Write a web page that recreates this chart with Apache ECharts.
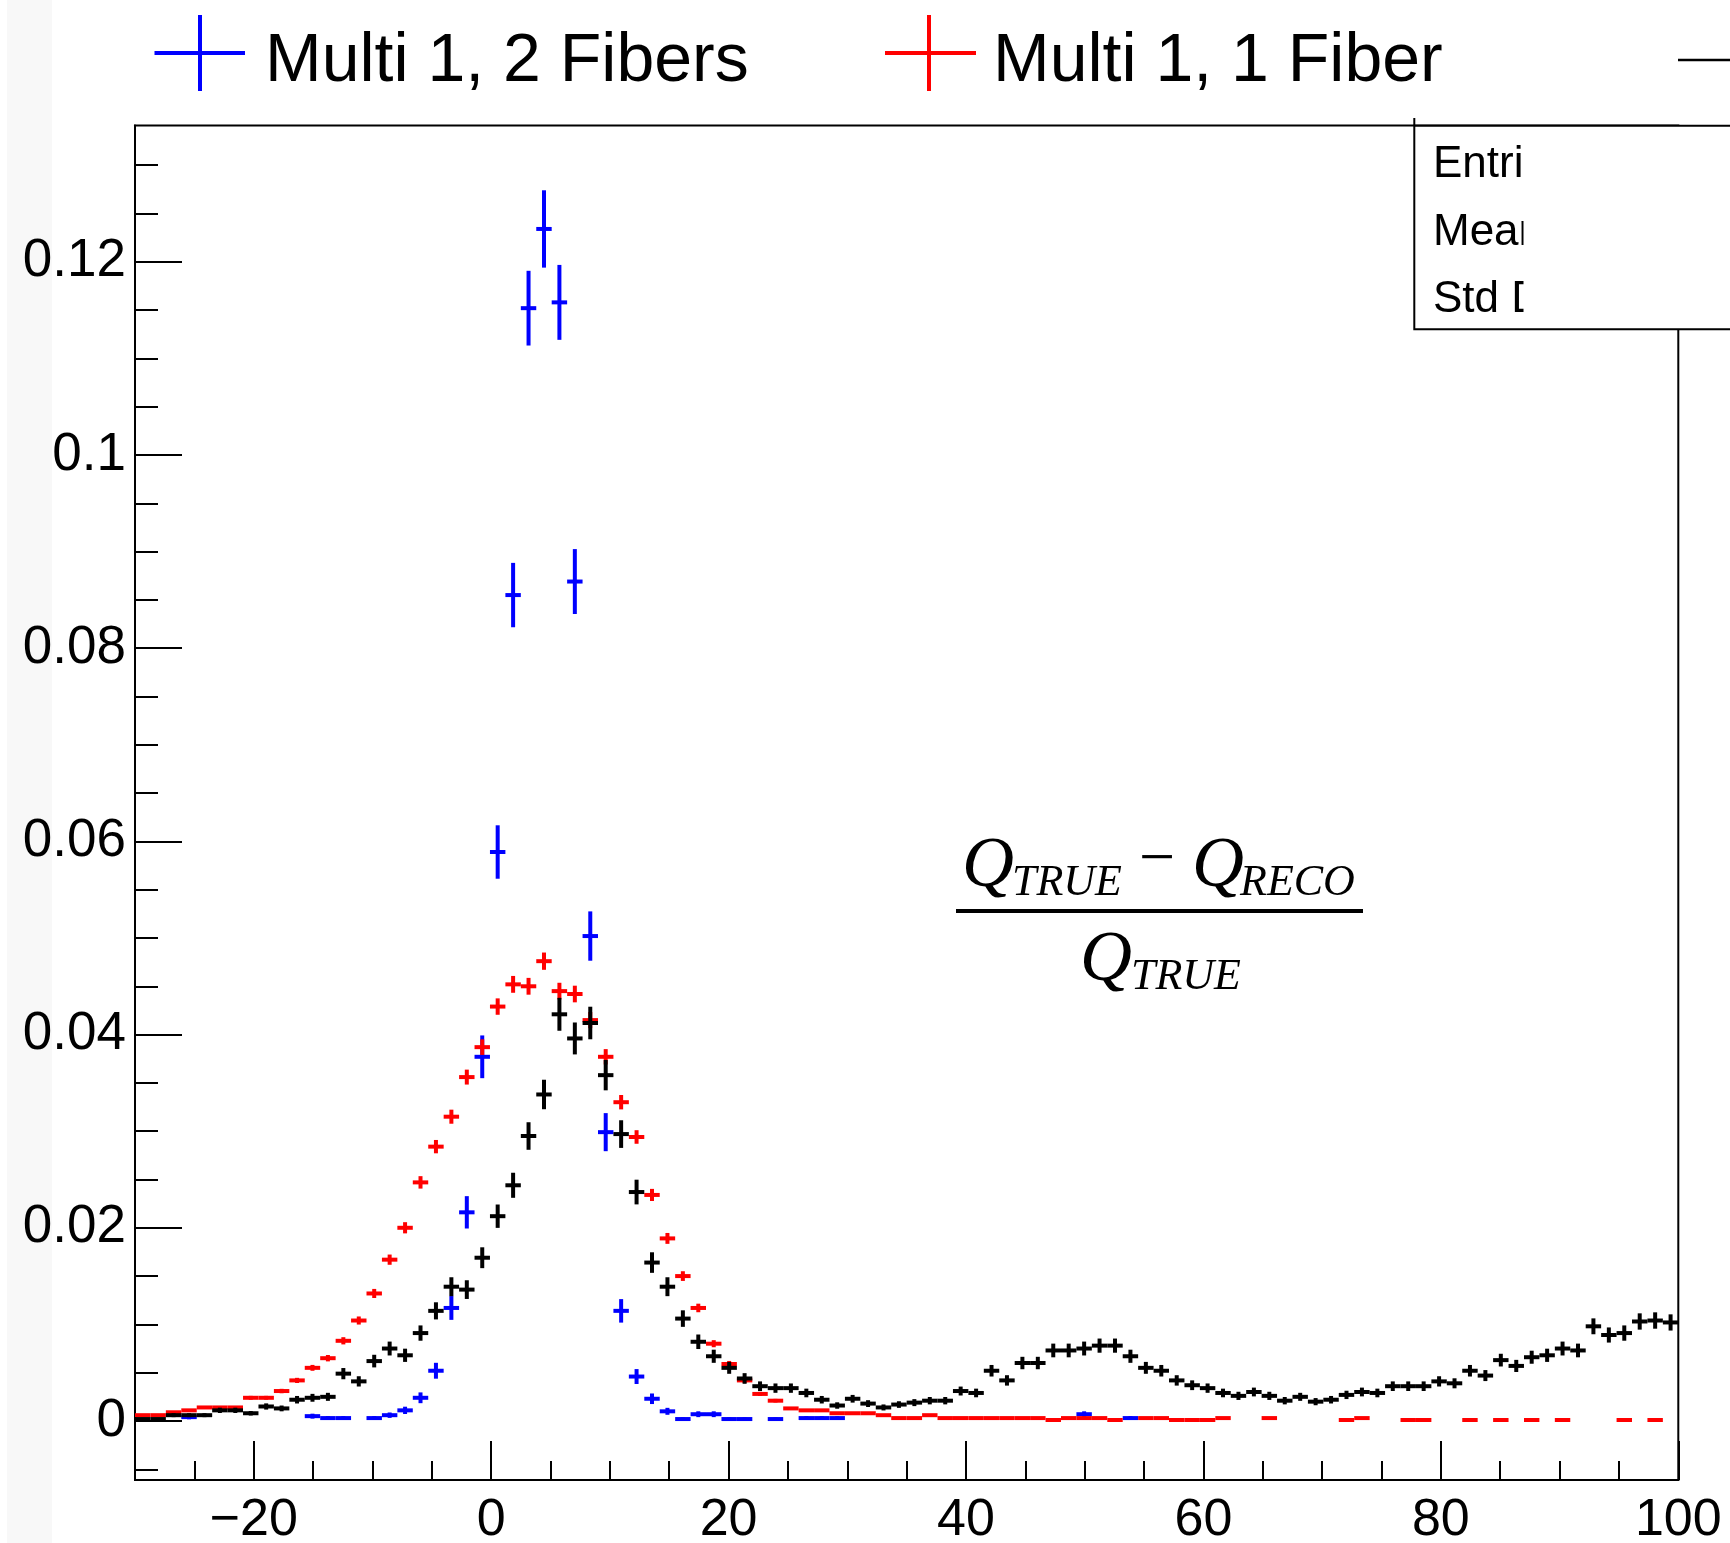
<!DOCTYPE html>
<html lang="en">
	<head>
		<meta charset="UTF-8" />
		<title>Charge resolution</title>
		<style>
			html, body { margin: 0; padding: 0; background: #fff; }
		</style>
	</head>
	<body>
		<div id="main" style="width: 1730px; height: 1543px"></div>
		<script src="https://cdn.jsdelivr.net/npm/echarts@6/dist/echarts.min.js"></script>
		<script>
			// histogram binning: 100 bins from -30 to 100
			var binLow = -30;
			var binWidth = 1.3;
			var nBins = 100;

			var xMajorTicks = [-20, 0, 20, 40, 60, 80, 100];
			var yMajorTicks = [0, 0.02, 0.04, 0.06, 0.08, 0.1, 0.12];

			// bin contents (null = empty bin, not drawn)
			var multi1TwoFibers = [
				null, null, null, 0.0004, null, null, null, null, null, null,
				null, 0.0005, 0.0003, 0.0003, null, 0.0003, 0.0006, 0.0011, 0.0024, 0.0052,
				0.0117, 0.0216, 0.0377, 0.0589, 0.0855, 0.1152, 0.1234, 0.1158, 0.0869, 0.0502,
				0.0299, 0.0114, 0.0046, 0.0023, 0.001, 0.0002, 0.0007, 0.0007, 0.0002, 0.0002,
				null, 0.0002, null, 0.0003, 0.0003, 0.0003, null, null, null, null,
				null, null, null, null, null, null, null, null, null, null,
				null, 0.0007, null, null, 0.0003, null, null, null, null, null,
				null, null, null, null, null, null, null, null, null, null,
				null, null, null, null, null, null, null, null, null, null,
				null, null, null, null, null, null, null, null, null, null
			];
			var multi1OneFiber = [
				0.0006, 0.0006, 0.0009, 0.0011, 0.0014, 0.0014, 0.0014, 0.0024, 0.0024, 0.0031,
				0.0042, 0.0055, 0.0065, 0.0083, 0.0104, 0.0132, 0.0167, 0.02, 0.0247, 0.0284,
				0.0315, 0.0356, 0.0387, 0.0429, 0.0452, 0.045, 0.0476, 0.0445, 0.0442, 0.0415,
				0.0377, 0.033, 0.0294, 0.0234, 0.0189, 0.015, 0.0117, 0.008, 0.0059, 0.0042,
				0.0028, 0.0021, 0.0013, 0.0011, 0.0011, 0.0008, 0.0008, 0.0008, 0.0006, 0.0003,
				0.0003, 0.0006, 0.0003, 0.0003, 0.0003, 0.0003, 0.0003, 0.0003, 0.0003, 0.0001,
				0.0003, 0.0003, 0.0003, 0.0001, null, 0.0003, 0.0003, 0.0001, 0.0001, 0.0001,
				0.0003, null, null, 0.0003, null, null, null, null, 0.0001, 0.0003,
				null, null, 0.0001, 0.0001, null, null, 0.0001, null, 0.0001, null,
				0.0001, null, 0.0001, null, null, null, 0.0001, null, 0.0001, null
			];
			var allEvents = [
				0.0002, 0.0002, 0.0006, 0.0006, 0.0006, 0.0011, 0.0011, 0.0008, 0.0015, 0.0013,
				0.0022, 0.0024, 0.0025, 0.0049, 0.0041, 0.0062, 0.0075, 0.0068, 0.0091, 0.0114,
				0.0139, 0.0136, 0.0169, 0.0212, 0.0244, 0.0295, 0.0338, 0.0421, 0.0396, 0.0412,
				0.0358, 0.0297, 0.0237, 0.0164, 0.0139, 0.0106, 0.0082, 0.0067, 0.0055, 0.0044,
				0.0036, 0.0034, 0.0034, 0.0029, 0.0022, 0.0016, 0.0023, 0.0018, 0.0014, 0.0017,
				0.0019, 0.0021, 0.0021, 0.0031, 0.0029, 0.0052, 0.0042, 0.006, 0.006, 0.0073,
				0.0073, 0.0075, 0.0078, 0.0078, 0.0067, 0.0055, 0.0052, 0.0042, 0.0037, 0.0034,
				0.0029, 0.0026, 0.003, 0.0026, 0.0021, 0.0025, 0.002, 0.0022, 0.0027, 0.003,
				0.0029, 0.0036, 0.0036, 0.0036, 0.0041, 0.0039, 0.0052, 0.0047, 0.0063, 0.0057,
				0.0066, 0.0068, 0.0075, 0.0073, 0.0098, 0.0089, 0.0091, 0.0103, 0.0104, 0.0102
			];

			// effective entries of each normalised histogram (sets the Poisson error bar size)
			var entriesTwoFibers = 7700;
			var entriesOneFiber = 59500;
			var entriesAll = 14500;

			var myChart = echarts.init(document.getElementById("main"));

			var binCenters = [];
			for (var i = 0; i < nBins; i++) {
				binCenters.push(binLow + binWidth * (i + 0.5));
			}

			function histData(values, entries) {
				var out = [];
				for (var i = 0; i < values.length; i++) {
					if (values[i] == null) continue;
					out.push([binCenters[i], values[i], Math.sqrt(values[i] / entries)]);
				}
				return out;
			}

			// ROOT style "E" drawing: bin-wide horizontal bar + vertical error bar
			function errorCross(color) {
				return function (params, api) {
					var x = api.value(0);
					var v = api.value(1);
					var e = api.value(2);
					var pl = api.coord([x - binWidth / 2, v]);
					var pr = api.coord([x + binWidth / 2, v]);
					var pt = api.coord([x, v + e]);
					var pb = api.coord([x, v - e]);
					return {
						type: "group",
						children: [
							{ type: "line", shape: { x1: pl[0], y1: pl[1], x2: pr[0], y2: pr[1] }, style: { stroke: color, lineWidth: 4 } },
							{ type: "line", shape: { x1: pt[0], y1: pt[1], x2: pb[0], y2: pb[1] }, style: { stroke: color, lineWidth: 4 } },
						],
					};
				};
			}

			function minorTicks(lo, hi, step, majors) {
				var out = [];
				var n = Math.round((hi - lo) / step);
				for (var k = 0; k <= n; k++) {
					var t = +(lo + k * step).toFixed(4);
					if (majors.indexOf(t) < 0) out.push(t);
				}
				return out;
			}

			var xMin = -30, xMax = 100;
			var yMin = -0.00611, yMax = 0.13411;
			var gridPos = { left: 135, top: 125.5, right: 51.7, bottom: 63 };
			var labelFont = "Liberation Sans";

			var option = {
				backgroundColor: "#ffffff",
				animation: false,
				grid: [
					Object.assign({ show: true, borderColor: "#000", borderWidth: 2, backgroundColor: "transparent", containLabel: false, outerBoundsMode: "none" }, gridPos),
					Object.assign({ show: false, containLabel: false, outerBoundsMode: "none" }, gridPos),
				],
				xAxis: [
					{
						type: "value", gridIndex: 0, min: xMin, max: xMax,
						axisLine: { onZero: false, lineStyle: { color: "#000", width: 2 } },
						axisTick: { inside: true, length: 39, lineStyle: { color: "#000", width: 2 }, customValues: xMajorTicks },
						axisLabel: {
							customValues: xMajorTicks, margin: 15, color: "#000", fontSize: 52, fontFamily: labelFont,
							formatter: function (v) { return v < 0 ? "\u2212" + Math.abs(v) : String(v); },
						},
						splitLine: { show: false },
					},
					{
						type: "value", gridIndex: 1, min: xMin, max: xMax,
						axisLine: { show: false, onZero: false },
						axisTick: { inside: true, length: 19, lineStyle: { color: "#000", width: 2 }, customValues: minorTicks(-30, 100, 5, xMajorTicks) },
						axisLabel: { show: false },
						splitLine: { show: false },
					},
				],
				yAxis: [
					{
						type: "value", gridIndex: 0, min: yMin, max: yMax,
						axisLine: { onZero: false, lineStyle: { color: "#000", width: 2 } },
						axisTick: { inside: true, length: 47, lineStyle: { color: "#000", width: 2 }, customValues: yMajorTicks },
						axisLabel: {
							customValues: yMajorTicks, margin: 9, color: "#000", fontSize: 53, fontFamily: labelFont,
							padding: [10, 0, 0, 0],
							formatter: function (v) { return String(parseFloat(v.toFixed(3))); },
						},
						splitLine: { show: false },
					},
					{
						type: "value", gridIndex: 1, min: yMin, max: yMax,
						axisLine: { show: false, onZero: false },
						axisTick: { inside: true, length: 23, lineStyle: { color: "#000", width: 2 }, customValues: minorTicks(-0.005, 0.13, 0.005, yMajorTicks) },
						axisLabel: { show: false },
						splitLine: { show: false },
					},
				],
				series: [
					{ name: "Multi 1, 2 Fibers", type: "custom", xAxisIndex: 0, yAxisIndex: 0, renderItem: errorCross("#0000ff"), data: histData(multi1TwoFibers, entriesTwoFibers), z: 2 },
					{ name: "Multi 1, 1 Fiber", type: "custom", xAxisIndex: 0, yAxisIndex: 0, renderItem: errorCross("#ff0000"), data: histData(multi1OneFiber, entriesOneFiber), z: 3 },
					{ name: "All", type: "custom", xAxisIndex: 0, yAxisIndex: 0, renderItem: errorCross("#000000"), data: histData(allEvents, entriesAll), z: 4 },
				],
				graphic: [
					// faint strip at the far left of the canvas
					{ type: "rect", z: -10, shape: { x: 7, y: 0, width: 45, height: 1543 }, style: { fill: "#f8f8f8" } },

					// legend
					{ type: "line", z: 100, shape: { x1: 154.5, y1: 53, x2: 245, y2: 53 }, style: { stroke: "#0000ff", lineWidth: 4 } },
					{ type: "line", z: 100, shape: { x1: 200, y1: 15, x2: 200, y2: 91 }, style: { stroke: "#0000ff", lineWidth: 4 } },
					{ type: "text", z: 100, x: 265, y: 62, style: { text: "Multi 1, 2 Fibers", fill: "#000", font: "68px 'Liberation Sans'", textVerticalAlign: "middle" } },
					{ type: "line", z: 100, shape: { x1: 885, y1: 53, x2: 976, y2: 53 }, style: { stroke: "#ff0000", lineWidth: 4 } },
					{ type: "line", z: 100, shape: { x1: 929, y1: 15, x2: 929, y2: 91 }, style: { stroke: "#ff0000", lineWidth: 4 } },
					{ type: "text", z: 100, x: 993, y: 62, style: { text: "Multi 1, 1 Fiber", fill: "#000", font: "68px 'Liberation Sans'", textVerticalAlign: "middle" } },
					{ type: "line", z: 100, shape: { x1: 1678, y1: 60, x2: 1730, y2: 60 }, style: { stroke: "#000", lineWidth: 2.5 } },

					// stats box (cut off at the right)
					{ type: "line", z: 100, shape: { x1: 1414.3, y1: 118, x2: 1414.3, y2: 126 }, style: { stroke: "#000", lineWidth: 2 } },
					{ type: "rect", z: 100, shape: { x: 1414.3, y: 125.7, width: 330, height: 203.6 }, style: { fill: "#fff", stroke: "#000", lineWidth: 2 } },
					{ type: "text", z: 101, x: 1433, y: 164.5, style: { text: "Entries", fill: "#000", font: "44px 'Liberation Sans'", textVerticalAlign: "middle" } },
					{ type: "text", z: 101, x: 1433, y: 233, style: { text: "Mean", fill: "#000", font: "44px 'Liberation Sans'", textVerticalAlign: "middle" } },
					{ type: "text", z: 101, x: 1433, y: 300, style: { text: "Std Dev", fill: "#000", font: "44px 'Liberation Sans'", textVerticalAlign: "middle" } },
					{ type: "rect", z: 102, shape: { x: 1523.5, y: 127, width: 210, height: 201 }, style: { fill: "#fff" } },

					// formula
					{ type: "text", z: 100, x: 962, y: 867, style: { text: "Q", fill: "#000", font: "italic 72px 'Liberation Serif'", textVerticalAlign: "middle" } },
					{ type: "text", z: 100, x: 1012, y: 883, style: { text: "TRUE", fill: "#000", font: "italic 44px 'Liberation Serif'", textVerticalAlign: "middle" } },
					{ type: "text", z: 100, x: 1157, y: 861, style: { text: "\u2212", fill: "#000", font: "64px 'Liberation Serif'", textAlign: "center", textVerticalAlign: "middle" } },
					{ type: "text", z: 100, x: 1192, y: 867, style: { text: "Q", fill: "#000", font: "italic 72px 'Liberation Serif'", textVerticalAlign: "middle" } },
					{ type: "text", z: 100, x: 1240, y: 883, style: { text: "RECO", fill: "#000", font: "italic 44px 'Liberation Serif'", textVerticalAlign: "middle" } },
					{ type: "line", z: 100, shape: { x1: 956, y1: 911, x2: 1363, y2: 911 }, style: { stroke: "#000", lineWidth: 4 } },
					{ type: "text", z: 100, x: 1080, y: 961, style: { text: "Q", fill: "#000", font: "italic 72px 'Liberation Serif'", textVerticalAlign: "middle" } },
					{ type: "text", z: 100, x: 1131, y: 977, style: { text: "TRUE", fill: "#000", font: "italic 44px 'Liberation Serif'", textVerticalAlign: "middle" } },
				],
			};

			myChart.setOption(option);
		</script>
	</body>
</html>
